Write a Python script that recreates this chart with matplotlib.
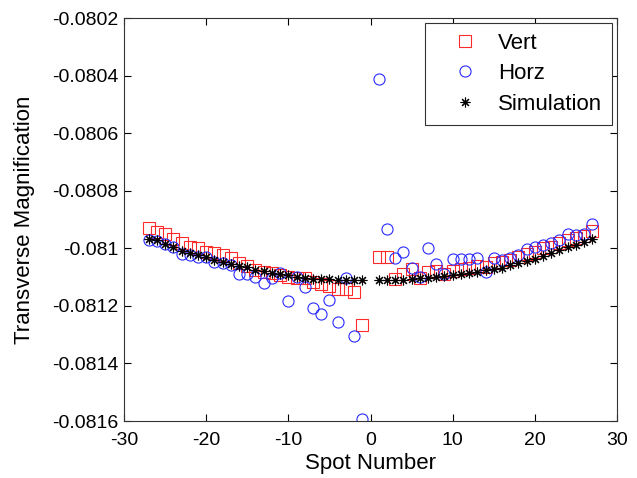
import matplotlib
matplotlib.use("Agg")
import matplotlib.pyplot as plt

plt.rcParams['font.family'] = ['Liberation Sans', 'DejaVu Sans']

spots = list(range(-27, 0)) + list(range(1, 28))

vert = [
    -0.080931, -0.080944, -0.080951, -0.080969, -0.080983, -0.080997, -0.081000,
    -0.081014, -0.081017, -0.081024, -0.081035, -0.081052, -0.081063, -0.081076,
    -0.081083, -0.081087, -0.081094, -0.081101, -0.081104, -0.081104, -0.081118,
    -0.081125, -0.081132, -0.081142, -0.081142, -0.081153, -0.081267,
    -0.081031, -0.081031, -0.081108, -0.081090, -0.081073, -0.081104, -0.081083,
    -0.081080, -0.081090, -0.081080, -0.081073, -0.081069, -0.081063, -0.081066,
    -0.081052, -0.081049, -0.081042, -0.081031, -0.081021, -0.081014, -0.081000,
    -0.080997, -0.080983, -0.080972, -0.080965, -0.080958, -0.080941,
]

horz = [
    -0.080972, -0.080976, -0.080986, -0.080997, -0.081021, -0.081024, -0.081031,
    -0.081031, -0.081049, -0.081052, -0.081059, -0.081090, -0.081090, -0.081101,
    -0.081122, -0.081104, -0.081087, -0.081184, -0.081101, -0.081135, -0.081208,
    -0.081229, -0.081181, -0.081257, -0.081104, -0.081306, -0.081594,
    -0.080413, -0.080934, -0.081035, -0.081014, -0.081069, -0.081101, -0.081000,
    -0.081056, -0.081090, -0.081038, -0.081038, -0.081038, -0.081035, -0.081083,
    -0.081035, -0.081042, -0.081035, -0.081024, -0.081003, -0.080997, -0.080990,
    -0.080983, -0.080972, -0.080951, -0.080955, -0.080951, -0.080917,
]

simulation = [
    -0.080969, -0.080972, -0.080986, -0.080997, -0.081010, -0.081017, -0.081024,
    -0.081031, -0.081042, -0.081049, -0.081056, -0.081063, -0.081066, -0.081076,
    -0.081080, -0.081087, -0.081090, -0.081094, -0.081101, -0.081104, -0.081108,
    -0.081108, -0.081108, -0.081111, -0.081111, -0.081111, -0.081111,
    -0.081111, -0.081111, -0.081111, -0.081111, -0.081108, -0.081104, -0.081104,
    -0.081101, -0.081097, -0.081094, -0.081090, -0.081087, -0.081083, -0.081076,
    -0.081073, -0.081069, -0.081059, -0.081052, -0.081045, -0.081038, -0.081028,
    -0.081017, -0.081007, -0.080997, -0.080990, -0.080979, -0.080969,
]

xticks = [-30, -20, -10, 0, 10, 20, 30]
yticks = [-0.0816, -0.0814, -0.0812, -0.081, -0.0808, -0.0806, -0.0804, -0.0802]
yticklabels = ['-0.0816', '-0.0814', '-0.0812', '-0.081', '-0.0808', '-0.0806', '-0.0804', '-0.0802']

fig = plt.figure(figsize=(6.37, 4.78), dpi=100)
ax = fig.add_axes([124/637, 57/478, 493/637, 403/478])

ax.plot(spots, vert, linestyle='none', marker='s', markersize=8,
        markerfacecolor='none', markeredgecolor='#ff2a2a', markeredgewidth=0.8, label='Vert')
ax.plot(spots, horz, linestyle='none', marker='o', markersize=8,
        markerfacecolor='none', markeredgecolor='#2a2aff', markeredgewidth=0.8, label='Horz')
ax.plot(spots, simulation, linestyle='none', marker=(8, 2, 0), markersize=7,
        color='black', markeredgewidth=0.8, label='Simulation')

ax.set_xlim(-30, 30)
ax.set_ylim(-0.0816, -0.0802)
ax.set_xticks(xticks)
ax.set_xticklabels([str(t) for t in xticks])
ax.set_yticks(yticks)
ax.set_yticklabels(yticklabels)
ax.tick_params(direction='in', top=True, right=True, labelsize=14, length=5, width=0.8, pad=4)
ax.tick_params(axis='x', pad=8)
for s in ax.spines.values():
    s.set_linewidth(0.8)
    s.set_color('#333333')

ax.set_xlabel('Spot Number', fontsize=16, labelpad=3)
ax.set_ylabel('Transverse Magnification', fontsize=16, labelpad=12)

leg = ax.legend(loc='upper right', fontsize=16, fancybox=False, framealpha=1,
                edgecolor='#333333', borderpad=0.45, handlelength=2.7, handletextpad=0.15,
                labelspacing=0.42, borderaxespad=0.22)
leg.get_frame().set_linewidth(0.8)

fig.savefig('out.png', dpi=100)
